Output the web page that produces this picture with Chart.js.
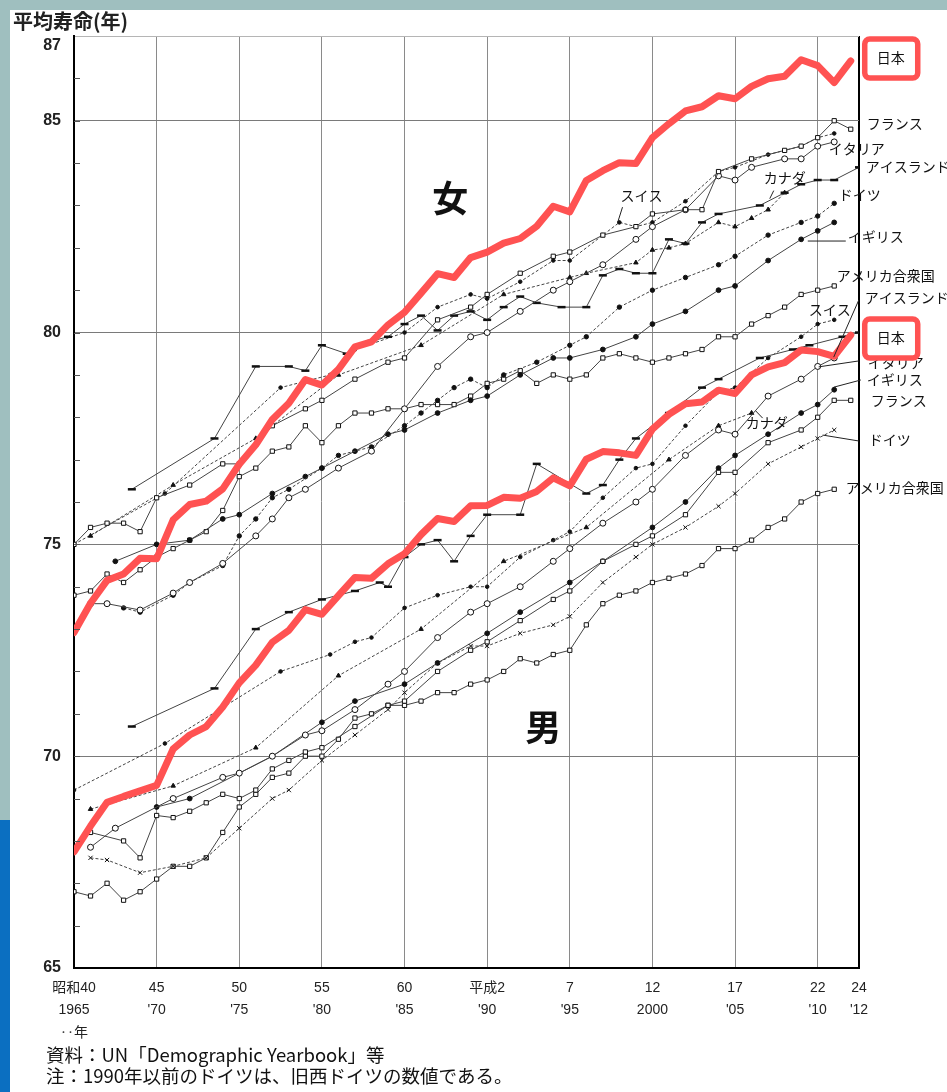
<!DOCTYPE html>
<html lang="ja">
<head>
<meta charset="utf-8">
<script src="https://cdn.jsdelivr.net/npm/chart.js@4.4.0/dist/chart.umd.min.js"></script>
<style>
  html, body { margin: 0; padding: 0; }
  body { width: 947px; height: 1092px; position: relative; overflow: hidden; background: #9fbfbf; font-family: "Noto Sans CJK JP", sans-serif; }
  #paper { position: absolute; left: 10px; top: 10px; right: 0; bottom: 0; background: #fff; }
  #bar { position: absolute; left: 0; top: 820px; width: 10px; bottom: 0; background: #0b6fc1; }
  #chart { position: absolute; left: 0; top: 0; }
  .title { position: absolute; left: 13px; top: 11px; font-size: 20px; line-height: 1; font-weight: bold; color: #222; }
  .note { position: absolute; left: 46px; font-size: 18.5px; line-height: 1; color: #111; }
</style>
</head>
<body>
<div id="paper"></div>
<div id="bar"></div>
<canvas id="chart" width="947" height="1092"></canvas>
<div class="title">平均寿命(年)</div>
<div class="note" style="top:1045px">資料：UN「Demographic Yearbook」等</div>
<div class="note" style="top:1066px">注：1990年以前のドイツは、旧西ドイツの数値である。</div>
<script>
// x axis ticks (year) and their two-line labels
const xTickYears = [1965, 1970, 1975, 1980, 1985, 1990, 1995, 2000, 2005, 2010, 2012.5];
const xTickLabels = [
  ['昭和40', '1965', '‥年'], ['45', "'70"], ['50', "'75"], ['55', "'80"], ['60', "'85"],
  ['平成2', "'90"], ['7', "'95"], ['12', '2000'], ['17', "'05"], ['22', "'10"], ['24', "'12"]
];
const yTicks = [65, 70, 75, 80, 85, 87];

// 日本
const japanYears = [1965,1966,1967,1968,1969,1970,1971,1972,1973,1974,1975,1976,1977,1978,1979,1980,1981,1982,1983,1984,
  1985,1986,1987,1988,1989,1990,1991,1992,1993,1994,1995,1996,1997,1998,1999,2000,2001,2002,2003,2004,
  2005,2006,2007,2008,2009,2010,2011,2012];
const japanF = [72.92,73.61,74.15,74.30,74.67,74.66,75.58,75.94,76.02,76.31,76.89,77.35,77.95,78.33,78.89,78.76,79.13,79.66,79.78,80.18,
  80.48,80.93,81.39,81.30,81.77,81.90,82.11,82.22,82.51,82.98,82.85,83.59,83.82,84.01,83.99,84.60,84.93,85.23,85.33,85.59,
  85.52,85.81,85.99,86.05,86.44,86.30,85.90,86.41];
const japanM = [67.74,68.35,68.91,69.05,69.18,69.31,70.17,70.50,70.70,71.16,71.73,72.15,72.69,72.97,73.46,73.35,73.79,74.22,74.20,74.54,
  74.78,75.23,75.61,75.54,75.91,75.92,76.11,76.09,76.25,76.57,76.38,77.01,77.19,77.16,77.10,77.72,78.07,78.32,78.36,78.64,
  78.56,79.00,79.19,79.29,79.59,79.55,79.44,79.94];

// 女
const franceFYears = [1965,1966,1967,1968,1969,1970,1972,1974,1975,1977,1979,1980,1982,1984,1985,1987,1989,1990,1992,1994,1995,1997,1999,2000,2002,2003,2004,2006,2008,2009,2010,2011,2012];
const franceF = [75.0,75.4,75.5,75.5,75.3,76.1,76.4,76.9,76.9,77.8,78.2,78.4,78.9,79.3,79.4,80.3,80.6,80.9,81.4,81.8,81.9,82.3,82.5,82.8,82.9,82.9,83.8,84.1,84.3,84.4,84.6,85.0,84.8];
const italyFYears = [1966,1967,1969,1971,1972,1974,1976,1977,1978,1979,1981,1983,1985,1987,1989,1990,1992,1994,1995,1997,1999,2000,2002,2004,2005,2006,2008,2009,2010,2011];
const italyF = [73.6,73.6,73.45,73.85,74.1,74.55,75.2,75.6,76.1,76.3,76.8,77.2,78.2,79.2,79.9,80.0,80.5,81.0,81.2,81.6,82.2,82.5,82.9,83.7,83.6,83.9,84.1,84.1,84.4,84.5];
const icelandFYears = [1968.5,1973.5,1976,1978,1979,1980,1981.5,1983,1984,1985,1986,1987,1988,1989,1990,1991,1992,1993,1994.5,1996,1997,1998,1999,2000,2001,2002,2003,2004,2006.5,2008,2009,2010,2011,2012.5];
const icelandF = [76.3,77.5,79.2,79.2,79.1,79.7,79.5,79.8,79.9,80.2,80.4,80.05,80.4,80.5,80.3,80.6,80.85,80.7,80.6,80.6,81.35,81.5,81.4,81.4,82.2,82.1,82.6,82.8,83.0,83.3,83.5,83.6,83.6,83.9];
const canadaFYears = [1966,1971,1976,1981,1986,1991,1995,1996,1999,2000,2001,2002,2004,2005,2006,2007,2008];
const canadaF = [75.2,76.4,77.5,79.0,79.7,80.9,81.3,81.4,81.65,81.95,82.0,82.1,82.6,82.5,82.7,82.9,83.3];
const germanyFYears = [1968,1969,1971,1972,1974,1975,1976,1977,1978,1980,1981,1983,1985,1986,1987,1988,1989,1990,1991,1993,1995,1996,1998,2000,2002,2004,2005,2007,2009,2010,2011];
const germanyF = [73.5,73.4,73.8,74.1,74.5,75.2,75.6,76.1,76.3,76.8,77.1,77.3,77.8,78.1,78.4,78.7,78.9,78.7,79.0,79.3,79.7,79.9,80.6,81.0,81.3,81.6,81.8,82.3,82.6,82.75,83.05];
const swissFYears = [1965,1970.5,1977.5,1980.5,1982,1985,1987,1989,1990,1992,1994,1995,1997,1998,1999,2000,2002,2004,2005,2007,2009,2010,2011];
const swissF = [75.0,76.2,78.7,79.0,79.6,80.0,80.6,80.9,80.8,81.2,81.7,81.7,82.3,82.6,82.5,82.6,83.1,83.8,83.9,84.2,84.4,84.6,84.7];
const ukFYears = [1967.5,1970,1972,1974,1975,1977,1979,1980,1982,1984,1985,1987,1989,1990,1992,1994,1995,1997,1999,2000,2002,2004,2005,2007,2009,2010,2011];
const ukF = [74.6,75.0,75.1,75.6,75.7,76.2,76.6,76.8,77.2,77.6,77.7,78.1,78.4,78.5,79.0,79.4,79.4,79.6,79.9,80.2,80.5,81.0,81.1,81.7,82.2,82.4,82.6];
const usaYears = [1965,1966,1967,1968,1969,1970,1971,1972,1973,1974,1975,1976,1977,1978,1979,1980,1981,1982,1983,1984,
  1985,1986,1987,1988,1989,1990,1991,1992,1993,1994,1995,1996,1997,1998,1999,2000,2001,2002,2003,2004,
  2005,2006,2007,2008,2009,2010,2011];
const usaF = [73.8,73.9,74.3,74.1,74.4,74.7,74.9,75.1,75.3,75.8,76.6,76.8,77.2,77.3,77.8,77.4,77.8,78.1,78.1,78.2,
  78.2,78.3,78.3,78.3,78.5,78.8,78.9,79.1,78.8,79.0,78.9,79.0,79.4,79.5,79.4,79.3,79.4,79.5,79.6,79.9,
  79.9,80.2,80.4,80.6,80.9,81.0,81.1];

// 男
const franceMYears = [1966,1968,1969,1970,1971,1972,1973,1974,1975,1976,1977,1978,1979,1980,1982,1984,1985,1987,1989,1990,1992,1994,1995,1997,1999,2000,2002,2004,2005,2007,2009,2010,2011,2012];
const franceM = [68.2,68.0,67.6,68.6,68.55,68.7,68.9,69.1,69.0,69.2,69.7,69.9,70.1,70.2,70.7,71.2,71.3,72.0,72.5,72.7,73.2,73.7,73.9,74.6,75.0,75.2,75.7,76.7,76.7,77.4,77.7,78.0,78.4,78.4];
const italyMYears = [1966,1967.5,1971,1974,1975,1977,1979,1980,1982,1984,1985,1987,1989,1990,1992,1994,1995,1997,1999,2000,2002,2004,2005,2007,2009,2010,2011];
const italyM = [67.85,68.3,69.0,69.5,69.6,70.0,70.5,70.6,71.1,71.7,72.0,72.8,73.4,73.6,74.0,74.6,74.9,75.5,76.0,76.3,77.1,77.7,77.6,78.5,78.9,79.2,79.4];
const icelandMYears = [1968.5,1973.5,1976,1978,1980,1982,1983.5,1984,1985,1986,1987,1988,1989,1990,1992,1993,1996,1997,1998,1999,2001,2003,2004,2006.5,2008.5,2009.5,2011.5,2012.5];
const icelandM = [70.7,71.6,73.0,73.4,73.7,73.9,74.1,74.0,74.7,75.0,75.1,74.6,75.2,75.7,75.7,76.9,76.2,76.4,77.0,77.5,78.1,78.7,78.9,79.4,79.6,79.7,79.9,80.0];
const canadaMYears = [1966,1971,1976,1981,1986,1991,1996,2001,2004,2006];
const canadaM = [68.75,69.3,70.2,71.9,73.0,74.6,75.4,77.0,77.8,78.1];
const germanyMYears = [1966,1967,1969,1971,1973,1975,1977,1978,1980,1982,1984,1985,1987,1989,1990,1992,1994,1995,1997,1999,2000,2002,2004,2005,2007,2009,2010,2011];
const germanyM = [67.6,67.55,67.25,67.4,67.6,68.3,69.0,69.2,69.9,70.5,71.1,71.5,72.2,72.6,72.6,72.9,73.1,73.3,74.1,74.7,75.0,75.4,75.9,76.2,76.9,77.3,77.5,77.7];
const swissMYears = [1965,1970.5,1977.5,1980.5,1982,1983,1985,1987,1989,1990,1992,1994,1995,1997,1999,2000,2002,2004,2005,2007,2009,2010,2011];
const swissM = [69.2,70.3,72.0,72.4,72.7,72.8,73.5,73.8,74.0,74.0,74.7,75.1,75.3,76.1,76.8,76.9,77.8,78.6,78.7,79.4,79.9,80.2,80.3];
const ukMYears = [1970,1972,1975,1977,1980,1982,1985,1987,1990,1992,1995,1997,2000,2002,2004,2005,2007,2009,2010,2011];
const ukM = [68.8,69.0,69.6,70.0,70.8,71.3,71.7,72.2,72.9,73.4,74.1,74.6,75.4,76.0,76.8,77.1,77.6,78.1,78.3,78.65];
const usaM = [66.8,66.7,67.0,66.6,66.8,67.1,67.4,67.4,67.6,68.2,68.8,69.1,69.5,69.6,70.0,70.0,70.4,70.9,71.0,71.2,
  71.2,71.3,71.5,71.5,71.7,71.8,72.0,72.3,72.2,72.4,72.5,73.1,73.6,73.8,73.9,74.1,74.2,74.3,74.5,74.9,
  74.9,75.1,75.4,75.6,76.0,76.2,76.3];

// side labels: [text, year, value]
const sideLabels = [
  ['フランス', 2012.97, 84.92], ['イタリア', 2010.67, 84.33], ['アイスランド', 2012.91, 83.91],
  ['カナダ', 2006.73, 83.65], ['ドイツ', 2011.27, 83.25], ['スイス', 1998.07, 83.22],
  ['イギリス', 2011.82, 82.26], ['アメリカ合衆国', 2011.15, 81.34],
  ['アイスランド', 2012.85, 80.82], ['スイス', 2009.46, 80.53], ['イタリア', 2013.03, 79.30],
  ['イギリス', 2012.97, 78.88], ['フランス', 2013.21, 78.39], ['カナダ', 2005.64, 77.87],
  ['ドイツ', 2013.09, 77.46], ['アメリカ合衆国', 2011.7, 76.33]
];
const leaders = [
  [1998.19, 82.96, 1997.89, 82.59], [2007.34, 83.35, 2007.1, 83.16], [2009.4, 82.16, 2011.7, 82.16],
  [2010.97, 79.42, 2012.49, 80.77], [2006.25, 78.15, 2006.67, 77.98], [2010.06, 79.19, 2012.49, 79.33],
  [2010.97, 78.71, 2012.61, 78.88], [2010.3, 77.58, 2012.49, 77.44]
];
const japanBoxes = [[2014.42, 86.48], [2014.42, 79.87]];
const bigLabels = [['女', 1987.77, 83.18], ['男', 1993.4, 70.69]];

function series(years, values) {
  return years.map((yr, i) => ({ x: yr, y: values[i] }));
}

function grayLine(years, values, style, opts = {}) {
  return Object.assign({
    data: series(years, values),
    borderColor: '#444',
    borderWidth: 1,
    pointStyle: style,
    pointRadius: 2.6,
    pointBackgroundColor: '#111',
    pointBorderColor: '#111',
    pointBorderWidth: 1,
    order: 2
  }, opts);
}

const openMark = { pointBackgroundColor: '#fff', pointRadius: 3 };
const dashed = { borderDash: [3, 2] };
const dashMark = { pointRadius: 4, pointBorderWidth: 2.5 };

const japanStyle = {
  borderColor: '#ff5252', borderWidth: 7, pointRadius: 0,
  borderJoinStyle: 'round', borderCapStyle: 'round', order: 0
};

const datasets = [
  Object.assign({ label: '日本 女', data: series(japanYears, japanF) }, japanStyle),
  Object.assign({ label: '日本 男', data: series(japanYears, japanM) }, japanStyle),
  grayLine(franceFYears, franceF, 'rect', openMark),
  grayLine(italyFYears, italyF, 'circle', openMark),
  grayLine(icelandFYears, icelandF, 'line', dashMark),
  grayLine(canadaFYears, canadaF, 'triangle', dashed),
  grayLine(germanyFYears, germanyF, 'circle', Object.assign({ pointRadius: 2.2 }, dashed)),
  grayLine(swissFYears, swissF, 'circle', Object.assign({ pointRadius: 1.8 }, dashed)),
  grayLine(ukFYears, ukF, 'circle', { pointRadius: 2.4 }),
  grayLine(usaYears, usaF, 'rect', openMark),
  grayLine(franceMYears, franceM, 'rect', openMark),
  grayLine(italyMYears, italyM, 'circle', openMark),
  grayLine(icelandMYears, icelandM, 'line', dashMark),
  grayLine(canadaMYears, canadaM, 'triangle', dashed),
  grayLine(germanyMYears, germanyM, 'crossRot', Object.assign({ pointRadius: 3 }, dashed)),
  grayLine(swissMYears, swissM, 'circle', Object.assign({ pointRadius: 1.8 }, dashed)),
  grayLine(ukMYears, ukM, 'circle', { pointRadius: 2.4 }),
  grayLine(usaYears, usaM, 'rect', openMark)
];

const annotate = {
  id: 'annotate',
  afterDraw(chart) {
    const { ctx, scales: { x, y }, chartArea } = chart;
    ctx.save();

    // small year ticks on the left axis
    ctx.strokeStyle = '#555';
    ctx.lineWidth = 1;
    for (let v = 66; v < 87; v++) {
      const py = Math.round(y.getPixelForValue(v)) + 0.5;
      ctx.beginPath();
      ctx.moveTo(chartArea.left, py);
      ctx.lineTo(chartArea.left + 6, py);
      ctx.stroke();
    }

    // leader lines
    ctx.strokeStyle = '#222';
    leaders.forEach(l => {
      ctx.beginPath();
      ctx.moveTo(x.getPixelForValue(l[0]), y.getPixelForValue(l[1]));
      ctx.lineTo(x.getPixelForValue(l[2]), y.getPixelForValue(l[3]));
      ctx.stroke();
    });

    ctx.fillStyle = '#111';
    ctx.font = '14px "Noto Sans CJK JP"';
    ctx.textBaseline = 'middle';
    ctx.textAlign = 'left';
    sideLabels.forEach(l => {
      ctx.fillText(l[0], x.getPixelForValue(l[1]), y.getPixelForValue(l[2]));
    });

    // 日本 boxes
    ctx.textAlign = 'center';
    japanBoxes.forEach(b => {
      const cx = x.getPixelForValue(b[0]);
      const cy = y.getPixelForValue(b[1]);
      ctx.fillStyle = '#fff';
      ctx.strokeStyle = '#ff5252';
      ctx.lineWidth = 5.5;
      ctx.beginPath();
      ctx.roundRect(cx - 26, cy - 19, 53, 39, 5);
      ctx.fill();
      ctx.stroke();
      ctx.fillStyle = '#111';
      ctx.fillText('日本', cx, cy);
    });

    ctx.font = 'bold 36px "Noto Sans CJK JP"';
    bigLabels.forEach(l => {
      ctx.fillText(l[0], x.getPixelForValue(l[1]), y.getPixelForValue(l[2]));
    });
    ctx.restore();
  }
};

new Chart(document.getElementById('chart'), {
  type: 'line',
  data: { datasets },
  plugins: [annotate],
  options: {
    responsive: false,
    devicePixelRatio: 1,
    animation: false,
    layout: { autoPadding: false, padding: { top: 36, right: 88, left: 0, bottom: 0 } },
    elements: { line: { tension: 0 } },
    plugins: { legend: { display: false }, tooltip: { enabled: false } },
    scales: {
      x: {
        type: 'linear',
        min: 1965,
        max: 2012.5,
        afterBuildTicks: axis => { axis.ticks = xTickYears.map(v => ({ value: v })); },
        afterFit: scale => { scale.height = 124; },
        border: { color: '#000', width: 2 },
        grid: {
          drawTicks: false,
          color: c => (c.tick && c.tick.value === 2012.5) ? '#000' : '#8a8a8a',
          lineWidth: c => (c.tick && c.tick.value === 2012.5) ? 2 : 1
        },
        ticks: {
          autoSkip: false,
          maxRotation: 0,
          padding: 9,
          color: '#222',
          font: { family: '"Liberation Sans Narrow", "Liberation Sans", "Noto Sans CJK JP"', size: 14, lineHeight: 1.6 },
          callback: (value, index) => xTickLabels[index]
        }
      },
      y: {
        min: 65,
        max: 87,
        afterBuildTicks: axis => { axis.ticks = yTicks.map(v => ({ value: v })); },
        afterFit: scale => { scale.width = 74; },
        border: { color: '#000', width: 2 },
        grid: {
          drawTicks: false,
          color: c => (c.tick && c.tick.value === 87) ? '#b5b5b5' : '#7a7a7a'
        },
        ticks: {
          padding: 13,
          color: '#222',
          font: { family: '"Liberation Sans Narrow", "Liberation Sans"', size: 16, weight: 'bold' },
          // the top label sits a little below its line, as in the source
          callback: value => value === 87 ? ['', '87'] : value
        }
      }
    }
  }
});
</script>
</body>
</html>
